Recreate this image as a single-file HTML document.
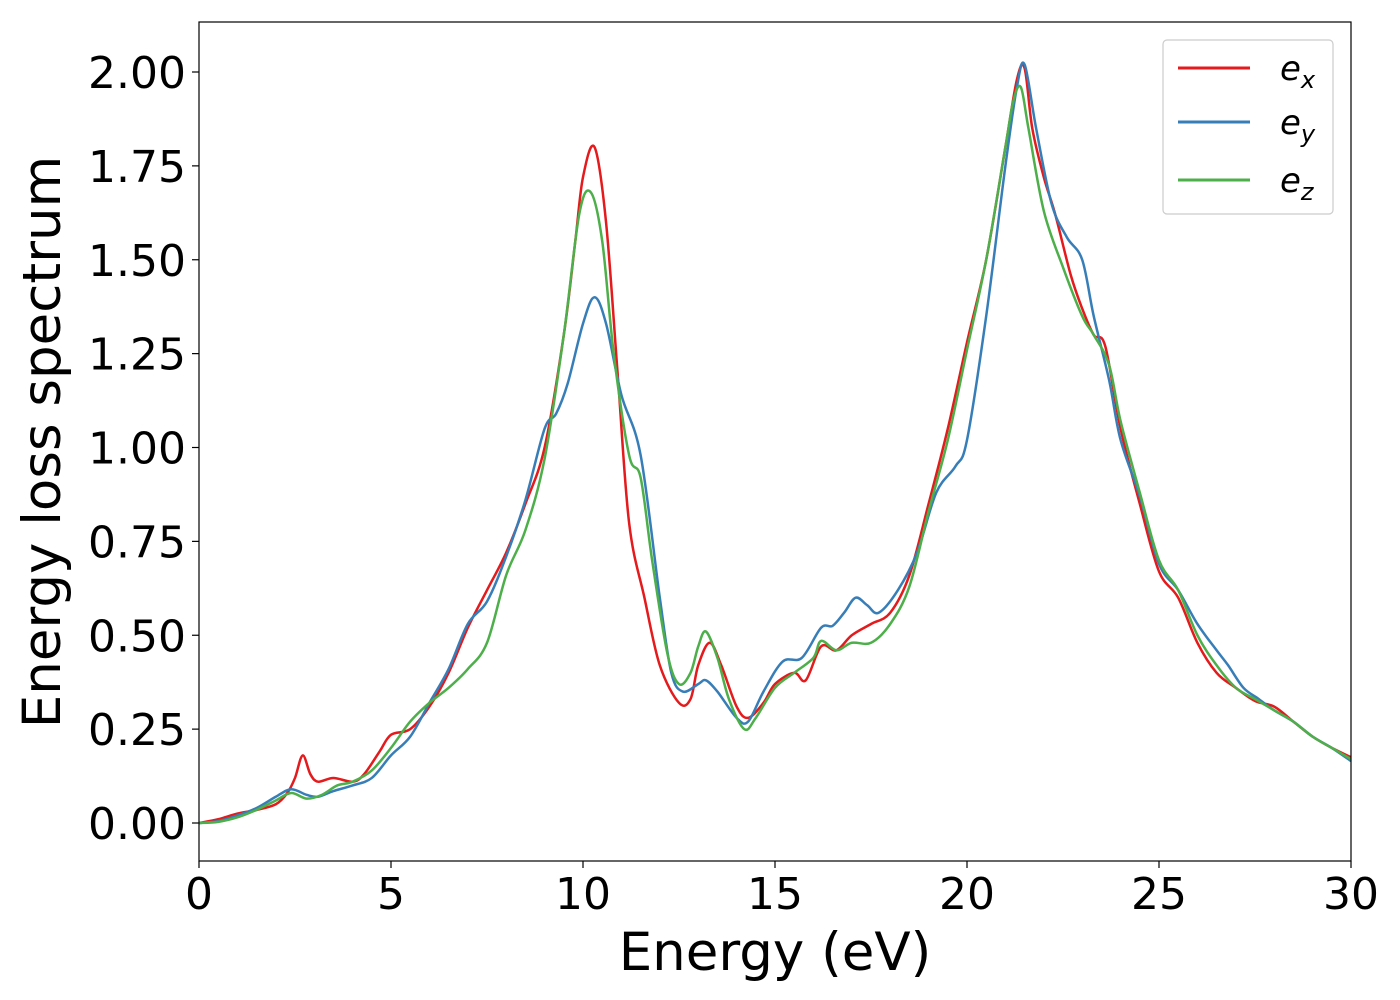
<!DOCTYPE html>
<html><head><meta charset="utf-8"><style>
html,body{margin:0;padding:0;background:#fff;}
svg{display:block;font-family:"DejaVu Sans","Liberation Sans",sans-serif;}
</style></head><body>
<svg id="chart" width="1400" height="1000" xmlns="http://www.w3.org/2000/svg">
<rect width="1400" height="1000" fill="#fff"/>
<g id="plot"></g>
<rect x="199" y="22" width="1152" height="839" fill="none" stroke="#000" stroke-width="1.2"/>
<g id="axes"></g>
<text x="775" y="970" font-size="53" text-anchor="middle">Energy (eV)</text>
<text transform="translate(60,442) rotate(-90)" font-size="53" text-anchor="middle">Energy loss spectrum</text>
<g>
<rect x="1163" y="40" width="170" height="174" rx="4" fill="#fff" stroke="#ccc" stroke-width="1.2"/>
<line x1="1178" y1="68" x2="1250" y2="68" stroke="#e41a1c" stroke-width="3"/>
<text x="1280" y="80" font-size="34" font-style="italic">e<tspan font-size="24" dy="8">x</tspan></text>
<line x1="1178" y1="122" x2="1250" y2="122" stroke="#377eb8" stroke-width="3"/>
<text x="1280" y="134" font-size="34" font-style="italic">e<tspan font-size="24" dy="8">y</tspan></text>
<line x1="1178" y1="180" x2="1250" y2="180" stroke="#4daf4a" stroke-width="3"/>
<text x="1280" y="192" font-size="34" font-style="italic">e<tspan font-size="24" dy="8">z</tspan></text>
</g>
</svg>
<script>
const xTicks=[0,5,10,15,20,25,30];
const yTicks=[0,0.25,0.5,0.75,1.0,1.25,1.5,1.75,2.0];
const exE=[0,0.5,1,1.5,2,2.3,2.5,2.7,2.9,3.1,3.5,4,4.3,4.7,5,5.5,6,6.5,7,7.5,8,8.5,9,9.5,9.8,10,10.3,10.6,10.9,11.2,11.6,12,12.5,12.8,13,13.3,13.6,14,14.3,14.7,15,15.5,15.8,16.2,16.6,17,17.5,18,18.5,19,19.5,20,20.5,21,21.3,21.5,21.7,22,22.3,22.7,23,23.3,23.6,24,24.5,25,25.5,26,26.5,27,27.5,28,28.5,29,29.5,30];
const exV=[0,0.01,0.025,0.035,0.05,0.08,0.12,0.18,0.13,0.11,0.12,0.11,0.13,0.19,0.235,0.25,0.31,0.40,0.52,0.62,0.72,0.85,1.0,1.3,1.55,1.72,1.80,1.6,1.2,0.8,0.6,0.42,0.32,0.33,0.42,0.48,0.42,0.31,0.28,0.32,0.37,0.40,0.38,0.47,0.46,0.50,0.53,0.56,0.66,0.85,1.05,1.28,1.50,1.80,1.98,2.01,1.85,1.72,1.62,1.46,1.37,1.30,1.27,1.05,0.85,0.67,0.60,0.48,0.40,0.36,0.325,0.31,0.27,0.23,0.20,0.175];
const eyE=[0,0.5,1,1.5,2,2.4,2.8,3.1,3.5,4,4.5,5,5.5,6,6.5,7,7.5,8,8.5,9,9.3,9.6,10,10.3,10.6,11,11.5,12,12.3,12.6,13,13.2,13.5,14,14.3,14.7,15.2,15.7,16.2,16.5,16.8,17.1,17.4,17.7,18.2,18.7,19.2,19.7,20,20.5,21,21.3,21.5,21.8,22.2,22.6,23,23.3,23.7,24,24.5,25,25.5,26,26.5,26.8,27.2,27.6,28,28.5,29,29.5,30];
const eyV=[0,0.005,0.02,0.04,0.07,0.09,0.075,0.07,0.085,0.10,0.12,0.18,0.23,0.32,0.41,0.53,0.59,0.71,0.86,1.05,1.09,1.17,1.33,1.40,1.33,1.14,0.98,0.60,0.40,0.35,0.37,0.38,0.35,0.28,0.27,0.35,0.43,0.44,0.52,0.525,0.56,0.60,0.58,0.56,0.62,0.72,0.88,0.95,1.02,1.35,1.75,1.96,2.02,1.85,1.65,1.56,1.50,1.35,1.18,1.02,0.87,0.69,0.62,0.53,0.46,0.42,0.36,0.33,0.30,0.27,0.23,0.20,0.165];
const ezE=[0,0.5,1,1.5,2,2.4,2.8,3.2,3.6,4,4.5,5,5.5,6,6.5,7,7.5,8,8.5,9,9.5,9.9,10.2,10.5,10.8,11.2,11.5,11.8,12.2,12.5,12.8,13,13.2,13.5,13.8,14.2,14.5,15,15.5,16,16.2,16.6,17,17.5,18,18.5,19,19.5,20,20.5,21,21.2,21.4,21.6,22,22.5,23,23.3,23.7,24,24.5,25,25.5,26,26.5,27,27.5,28,28.5,29,29.5,30];
const ezV=[0,0.003,0.015,0.035,0.06,0.08,0.065,0.075,0.10,0.11,0.14,0.20,0.27,0.32,0.36,0.41,0.48,0.66,0.78,0.97,1.30,1.62,1.68,1.55,1.25,0.98,0.92,0.70,0.45,0.37,0.40,0.47,0.51,0.44,0.33,0.25,0.28,0.36,0.40,0.44,0.485,0.46,0.48,0.48,0.53,0.63,0.83,1.02,1.26,1.50,1.80,1.92,1.96,1.85,1.63,1.48,1.35,1.30,1.22,1.07,0.88,0.70,0.62,0.50,0.42,0.36,0.33,0.30,0.27,0.23,0.20,0.17];

const NS='http://www.w3.org/2000/svg';
const X0=199,X1=1351,Y0=823,Y2=72;
function sx(v){return X0+(v-0)/(30-0)*(X1-X0);}
function sy(v){return Y0+(v-0)/(2-0)*(Y2-Y0);}
function mk(tag,attrs,parent){const e=document.createElementNS(NS,tag);for(const k in attrs)e.setAttribute(k,attrs[k]);parent.appendChild(e);return e;}
const axes=document.getElementById('axes');
xTicks.forEach(t=>{
  const l=mk('line',{x1:sx(t),x2:sx(t),y1:861,y2:868,stroke:'#000','stroke-width':1.2},axes);
  
  
  const tx=mk('text',{x:sx(t),y:909,'font-size':44,'text-anchor':'middle'},axes);
  tx.textContent=String(t);
  
  
});
yTicks.forEach(t=>{
  const l=mk('line',{x1:192,x2:199,y1:sy(t),y2:sy(t),stroke:'#000','stroke-width':1.2},axes);
  
  
  const tx=mk('text',{x:186,y:sy(t)+16,'font-size':44,'text-anchor':'end'},axes);
  tx.textContent=t.toFixed(2);
  
  
});
function pathFor(E,V){
  const p=E.map((e,i)=>[sx(e),sy(V[i])]);
  let d='M'+p[0][0]+','+p[0][1];
  for(let i=0;i<p.length-1;i++){
    const p0=p[i-1]||p[i],p1=p[i],p2=p[i+1],p3=p[i+2]||p2;
    const c1=[p1[0]+(p2[0]-p0[0])/6,p1[1]+(p2[1]-p0[1])/6];
    const c2=[p2[0]-(p3[0]-p1[0])/6,p2[1]-(p3[1]-p1[1])/6];
    d+=' C'+c1.join(',')+' '+c2.join(',')+' '+p2.join(',');
  }
  return d;
}
const plot=document.getElementById('plot');
const s1=mk('path',{d:pathFor(exE,exV),fill:'none',stroke:'#e41a1c','stroke-width':2.5},plot);


const s2=mk('path',{d:pathFor(eyE,eyV),fill:'none',stroke:'#377eb8','stroke-width':2.5},plot);


const s3=mk('path',{d:pathFor(ezE,ezV),fill:'none',stroke:'#4daf4a','stroke-width':2.5},plot);


</script>
</body></html>
